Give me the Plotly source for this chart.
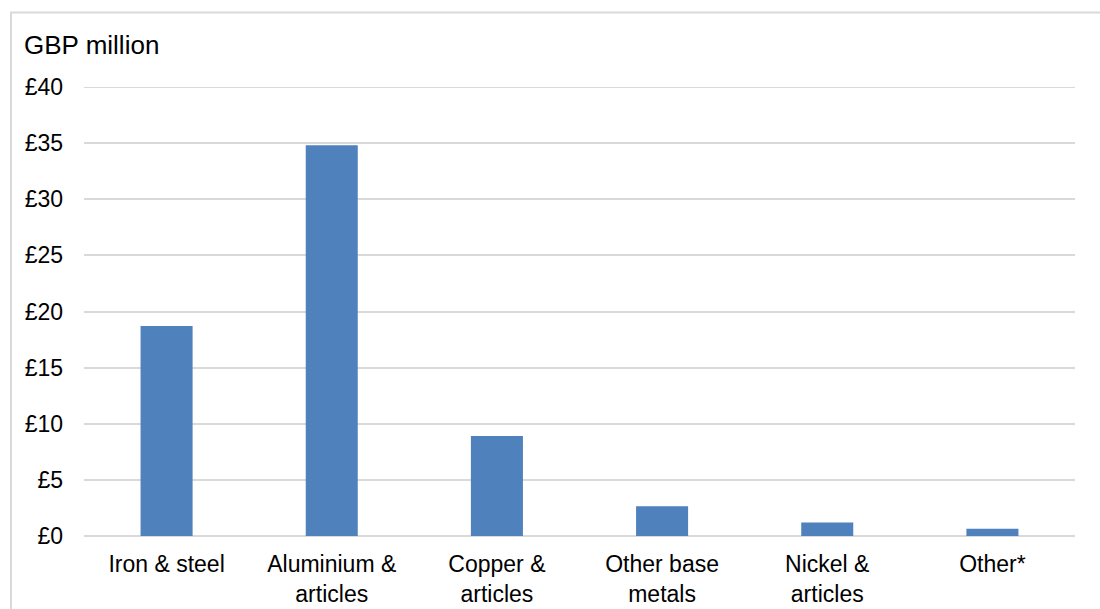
import plotly.graph_objects as go

categories = ["Iron & steel", "Aluminium & articles", "Copper & articles",
              "Other base metals", "Nickel & articles", "Other*"]
tick_labels = ["Iron & steel", "Aluminium &<br>articles", "Copper &<br>articles",
               "Other base<br>metals", "Nickel &<br>articles", "Other*"]
values = [18.7, 34.8, 8.9, 2.65, 1.2, 0.65]

y_ticks = [0, 5, 10, 15, 20, 25, 30, 35, 40]
y_tick_labels = ["£0", "£5", "£10", "£15", "£20", "£25", "£30", "£35", "£40"]

FONT = "Liberation Sans, Arial, sans-serif"
GRID = "#D9D9D9"

fig = go.Figure(
    go.Bar(
        x=categories,
        y=values,
        marker=dict(color="#4F81BD", line=dict(width=0)),
        width=0.315,
        hoverinfo="x+y",
    )
)

fig.update_layout(
    width=1100,
    height=609,
    margin=dict(l=84, r=25, t=87, b=73),
    paper_bgcolor="white",
    plot_bgcolor="white",
    showlegend=False,
    font=dict(family=FONT, size=23, color="#000000"),
    xaxis=dict(
        tickmode="array",
        tickvals=categories,
        ticktext=tick_labels,
        showgrid=False,
        showline=False,
        zeroline=False,
        ticks="",
        ticklabelstandoff=12,
        automargin=False,
        tickfont=dict(size=23),
    ),
    yaxis=dict(
        range=[0, 40],
        tickmode="array",
        tickvals=y_ticks,
        ticktext=y_tick_labels,
        showgrid=True,
        gridcolor=GRID,
        gridwidth=2,
        zeroline=True,
        zerolinecolor=GRID,
        zerolinewidth=2,
        showline=False,
        ticks="",
        ticklabelstandoff=20,
        automargin=False,
        tickfont=dict(size=23),
    ),
    annotations=[
        dict(
            text="GBP million",
            xref="paper", yref="paper",
            x=-(84 - 22) / 991, y=1 + (87 - 45) / 449,
            xanchor="left", yanchor="middle",
            showarrow=False,
            font=dict(family=FONT, size=26, color="#000000"),
        )
    ],
    shapes=[
        # outer chart frame
        dict(
            type="rect",
            xref="paper", yref="paper",
            x0=-(84 - 11) / 991, x1=1 + 40 / 991,
            y0=-100 / 449, y1=1 + (87 - 12.5) / 449,
            line=dict(color=GRID, width=2),
            fillcolor="rgba(0,0,0,0)",
            layer="below",
        ),
        # gridline at the top of the value range
        dict(
            type="line",
            xref="paper", yref="y",
            x0=0, x1=1, y0=40, y1=40,
            line=dict(color=GRID, width=2),
            layer="below",
        ),
    ],
)

fig.write_html("out.html")
